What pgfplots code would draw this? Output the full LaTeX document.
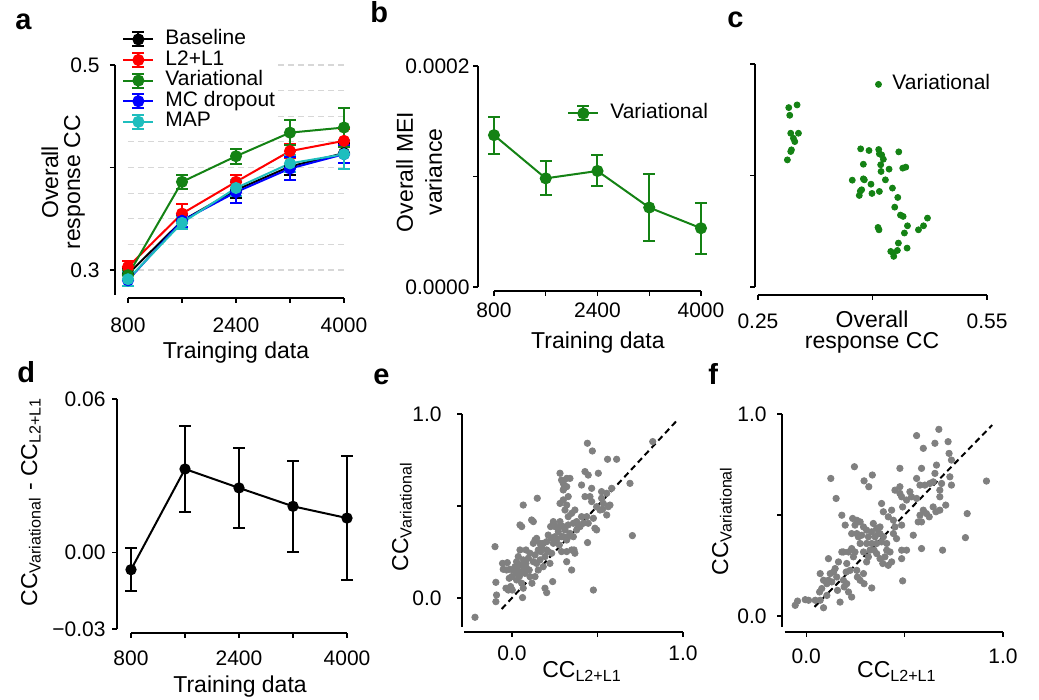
\documentclass[border=0pt]{standalone}
\usepackage{fontspec}
\setmainfont{Liberation Sans}
\usepackage{pgfplots}
\pgfplotsset{compat=1.18}

\definecolor{cblack}{RGB}{0,0,0}
\definecolor{cred}{RGB}{255,0,0}
\definecolor{cgreen}{RGB}{20,130,20}
\definecolor{cblue}{RGB}{0,0,255}
\definecolor{ccyan}{RGB}{30,190,190}
\definecolor{cgray}{RGB}{128,128,128}
\definecolor{cgrid}{RGB}{215,215,215}

\newcommand{\tickfont}{\fontsize{10.5}{12}\selectfont}
\newcommand{\labfont}{\fontsize{11.5}{13}\selectfont}

\tikzset{
  eline/.style={line width=1pt, mark=*, mark size=2.5pt, mark options={solid}},
  spine/.style={black, line width=0.6pt},
}
\pgfplotsset{
  panel/.style={
    scale only axis, anchor=south west, clip=false, enlargelimits=false,
    axis lines*=left, axis line style={draw=none},
    scaled x ticks=false, scaled y ticks=false,
    tick align=outside, major tick length=2.5pt,
    tick style={black, line width=0.6pt},
    tick label style={inner sep=0pt, font=\tickfont},
    /pgf/number format/assume math mode=true,
    label style={font=\labfont, inner sep=0pt},
    legend cell align=left,
    legend style={draw=none, fill=white, inner sep=0pt, column sep=5.5pt,
      font=\tickfont, nodes={inner sep=0pt, text height=7.7pt, text depth=2.6pt}},
  },
  ebars/.style={
    error bars/y dir=both, error bars/y explicit,
    error bars/error bar style={line width=1pt, solid},
    error bars/error mark options={rotate=90, mark size=3pt, line width=1pt},
  },
  ebarlegend/.style={legend image code/.code={
    \draw[##1, mark=none, solid] (7.5pt,-3.5pt) -- (7.5pt,3.5pt)
      (4.5pt,-3.5pt) -- (10.5pt,-3.5pt) (4.5pt,3.5pt) -- (10.5pt,3.5pt);
    \draw[mark repeat=2, mark phase=2, ##1] plot coordinates {(0pt,0pt) (7.5pt,0pt) (15pt,0pt)};
  }},
}

\begin{document}
\begin{tikzpicture}
\useasboundingbox (0,0) rectangle (519.5pt,350pt);

% panel letters
\begin{scope}[every node/.style={anchor=base west, font=\bfseries\fontsize{14.5}{16}\selectfont, inner sep=0pt}]
\node at (7.5pt,335pt) {a};
\node at (185pt,338.5pt) {b};
\node at (363.5pt,336pt) {c};
\node at (8.5pt,158.5pt) {d};
\node at (186.5pt,157.5pt) {e};
\node at (354pt,157.5pt) {f};
\end{scope}

% ---------------- a ----------------
\begin{axis}[panel, ebars, ebarlegend,
  at={(57.5pt,201pt)}, width=117.5pt, height=118pt,
  xmin=607.4, xmax=4089, ymin=0.2727, ymax=0.50293,
  xtick={800,1600,2400,3200,4000}, xticklabels={800,,2400,,4000},
  ytick={0.3,0.4,0.5}, yticklabels={0.3,,0.5},
  xticklabel style={yshift=-7pt}, yticklabel style={xshift=-5pt},
  xlabel={Trainging data},
  xlabel style={at={(axis description cs:0.515,-0.233)}, anchor=center},
  ylabel={Overall\\response CC},
  ylabel style={at={(axis description cs:-0.221,0.49)}, anchor=center, align=center,
    font=\fontsize{11.5}{11}\selectfont},
  legend style={at={(axis description cs:0.0298,1.141)}, anchor=north west},
  legend entries={Baseline, L2+L1, Variational, MC dropout, MAP},
]
\pgfplotsinvokeforeach{0.3,0.325,0.35,0.375,0.4,0.425,0.45,0.475,0.5}{
  \draw[cgrid, line width=0.6pt, dash pattern=on 3pt off 2pt] (axis cs:800,#1) -- (axis cs:4000,#1);
}
\draw[spine] (axis cs:607.4,0.5) -- (axis cs:607.4,0.2756);
\draw[spine] (axis cs:800,0.2727) -- (axis cs:4000,0.2727);
\addplot[cblack, eline] coordinates {
  (800,0.296) +- (0,0.006) (1600,0.348) +- (0,0.006) (2400,0.378) +- (0,0.008)
  (3200,0.401) +- (0,0.008) (4000,0.414) +- (0,0.010)};
\addplot[cred, eline] coordinates {
  (800,0.303) +- (0,0.006) (1600,0.355) +- (0,0.009) (2400,0.386) +- (0,0.007)
  (3200,0.416) +- (0,0.007) (4000,0.426) +- (0,0.012)};
\addplot[cgreen, eline] coordinates {
  (800,0.295) +- (0,0.005) (1600,0.386) +- (0,0.0065) (2400,0.411) +- (0,0.0073)
  (3200,0.434) +- (0,0.012) (4000,0.439) +- (0,0.019)};
\addplot[cblue, eline] coordinates {
  (800,0.290) +- (0,0.006) (1600,0.348) +- (0,0.006) (2400,0.376) +- (0,0.011)
  (3200,0.399) +- (0,0.011) (4000,0.413) +- (0,0.009)};
\addplot[ccyan, eline] coordinates {
  (800,0.291) +- (0,0.007) (1600,0.346) +- (0,0.006) (2400,0.380) +- (0,0.008)
  (3200,0.404) +- (0,0.008) (4000,0.413) +- (0,0.014)};
\end{axis}

% ---------------- b ----------------
\begin{axis}[panel, ebars, ebarlegend,
  at={(239pt,204.5pt)}, width=115.5pt, height=112.5pt,
  xmin=552.6, xmax=4124, ymin=-3.62e-6, ymax=0.0002,
  xtick={800,1600,2400,3200,4000}, xticklabels={800,,2400,,4000},
  ytick={0,0.0001,0.0002}, yticklabels={0.0000,,0.0002},
  xticklabel style={yshift=-3pt}, yticklabel style={xshift=-1.5pt},
  xlabel={Training data},
  xlabel style={at={(axis description cs:0.519,-0.227)}, anchor=center},
  ylabel={Overall MEI\\variance},
  ylabel style={at={(axis description cs:-0.255,0.529)}, anchor=center, align=center,
    font=\fontsize{11.5}{14.5}\selectfont},
  legend style={at={(axis description cs:0.385,0.837)}, anchor=north west},
  legend entries={Variational},
]
\draw[spine] (axis cs:552.6,0.0002) -- (axis cs:552.6,0);
\draw[spine] (axis cs:800,-3.62e-6) -- (axis cs:4000,-3.62e-6);
\addplot[cgreen, eline] coordinates {
  (800,1.374e-4) +- (0,1.68e-5) (1600,0.983e-4) +- (0,1.55e-5) (2400,1.050e-4) +- (0,1.40e-5)
  (3200,0.719e-4) +- (0,3.04e-5) (4000,0.532e-4) +- (0,2.30e-5)};
\end{axis}

% ---------------- c ----------------
\begin{axis}[panel,
  at={(377.5pt,202.5pt)}, width=117.5pt, height=115.5pt,
  xmin=0.2461, xmax=0.5539, ymin=-7.17e-6, ymax=0.0002,
  xtick={0.25,0.4,0.55}, xticklabels={0.25,,0.55},
  ytick={0,0.0001,0.0002}, yticklabels={,,},
  xticklabel style={yshift=-6.5pt},
  xlabel={Overall\\response CC},
  xlabel style={at={(axis description cs:0.498,-0.162)}, anchor=center, align=center,
    font=\fontsize{11.5}{10.5}\selectfont},
  legend image code/.code={\draw[#1] plot coordinates {(1.5pt,0pt)};},
  legend style={at={(axis description cs:0.511,0.958)}, anchor=north west},
  legend entries={Variational},
]
\draw[spine] (axis cs:0.2461,0.0002) -- (axis cs:0.2461,0);
\draw[spine] (axis cs:0.25,-7.17e-6) -- (axis cs:0.55,-7.17e-6);
\addplot[only marks, mark=*, mark size=1.5pt, cgreen] table {
x y
0.3012 1.633e-4
0.2903 1.609e-4
0.2916 1.540e-4
0.2929 1.379e-4
0.3030 1.379e-4
0.2964 1.334e-4
0.2982 1.304e-4
0.2938 1.230e-4
0.2929 1.215e-4
0.2885 1.140e-4
0.3845 1.239e-4
0.3954 1.224e-4
0.4081 1.233e-4
0.4090 1.194e-4
0.4120 1.185e-4
0.4142 1.146e-4
0.4344 1.212e-4
0.3880 1.101e-4
0.4107 1.096e-4
0.4217 1.057e-4
0.4396 1.066e-4
0.4436 1.075e-4
0.4112 1.036e-4
0.3735 0.958e-4
0.3880 0.970e-4
0.3893 0.961e-4
0.4169 0.961e-4
0.3980 0.922e-4
0.4261 0.887e-4
0.3858 0.872e-4
0.3840 0.860e-4
0.3827 0.821e-4
0.3993 0.839e-4
0.4090 0.857e-4
0.4331 0.803e-4
0.4291 0.716e-4
0.4366 0.645e-4
0.4401 0.633e-4
0.4720 0.618e-4
0.4668 0.549e-4
0.4602 0.513e-4
0.4458 0.549e-4
0.4072 0.534e-4
0.4085 0.513e-4
0.4418 0.484e-4
0.4339 0.394e-4
0.4453 0.349e-4
0.4239 0.319e-4
0.4274 0.304e-4
0.4326 0.328e-4
0.4278 0.275e-4
};
\end{axis}

% ---------------- d ----------------
\begin{axis}[panel, ebars,
  at={(58.5pt,33.5pt)}, width=119pt, height=117pt,
  xmin=592.6, xmax=4118.5, ymin=-0.03157, ymax=0.06,
  xtick={800,1600,2400,3200,4000}, xticklabels={800,,2400,,4000},
  ytick={-0.03,0,0.06}, yticklabels={−0.03,0.00,0.06},
  xticklabel style={yshift=-6pt}, yticklabel style={xshift=-3pt},
  xlabel={Training data},
  xlabel style={at={(axis description cs:0.517,-0.231)}, anchor=center},
  ylabel={CC\textsubscript{Variational} - CC\textsubscript{L2+L1}},
  ylabel style={at={(axis description cs:-0.336,0.56)}, anchor=base},
]
\draw[spine] (axis cs:592.6,0.06) -- (axis cs:592.6,-0.03);
\draw[spine] (axis cs:800,-0.03157) -- (axis cs:4000,-0.03157);
\addplot[cblack, eline, mark size=2.3pt] coordinates {
  (800,-0.0068) +- (0,0.0085) (1600,0.0326) +- (0,0.0167) (2400,0.0252) +- (0,0.0158)
  (3200,0.0180) +- (0,0.0177) (4000,0.0134) +- (0,0.0243)};
\end{axis}

% ---------------- e ----------------
\begin{axis}[panel,
  at={(231pt,34pt)}, width=110.5pt, height=109pt,
  xmin=-0.292, xmax=1.0, ymin=-0.185, ymax=1.0,
  xtick={0,0.5,1}, xticklabels={0.0,,1.0},
  ytick={0,0.5,1}, yticklabels={0.0,,1.0},
  xticklabel style={yshift=-4pt}, yticklabel style={xshift=-7.5pt},
  xlabel={CC\textsubscript{L2+L1}},
  xlabel style={at={(axis description cs:0.543,-0.211)}, anchor=base},
  ylabel={CC\textsubscript{Variational}},
  ylabel style={at={(axis description cs:-0.244,0.528)}, anchor=base},
]
\draw[spine] (axis cs:-0.292,1.0) -- (axis cs:-0.292,-0.158);
\draw[spine] (axis cs:-0.281,-0.185) -- (axis cs:1.0,-0.185);
\addplot[only marks, mark=*, mark size=1.6pt, cgray] table {
x y
-0.216 -0.105
-0.099 0.279
-0.094 0.085
-0.090 0.016
-0.094 -0.020
-0.055 0.188
-0.051 0.156
-0.027 0.192
-0.012 0.156
-0.016 0.107
-0.035 0.053
-0.021 0.043
-0.008 0.062
0.002 0.043
0.027 0.197
0.037 0.225
0.031 0.156
0.023 0.134
0.043 0.116
0.057 0.143
0.070 0.170
0.066 0.207
0.082 0.188
0.057 0.080
0.066 0.053
0.062 0.002
0.096 0.216
0.105 0.243
0.101 0.152
0.117 0.080
0.135 0.116
0.047 0.397
0.057 0.388
0.066 0.505
0.115 0.424
0.125 0.415
0.148 0.542
0.135 0.315
0.144 0.324
0.154 0.261
0.164 0.207
0.168 0.252
0.183 0.297
0.203 0.306
0.212 0.342
0.193 0.225
0.183 0.170
0.193 0.053
0.203 0.029
0.222 0.188
0.232 0.243
0.238 0.089
0.226 0.388
0.242 0.406
0.251 0.333
0.261 0.315
0.271 0.361
0.281 0.388
0.277 0.288
0.290 0.252
0.300 0.388
0.310 0.370
0.320 0.252
0.320 0.197
0.329 0.333
0.339 0.351
0.349 0.261
0.349 0.152
0.363 0.261
0.368 0.243
0.281 0.678
0.290 0.641
0.300 0.623
0.304 0.596
0.320 0.650
0.339 0.650
0.329 0.551
0.300 0.533
0.310 0.478
0.320 0.505
0.329 0.442
0.349 0.460
0.359 0.406
0.378 0.415
0.388 0.388
0.407 0.614
0.427 0.687
0.427 0.551
0.437 0.442
0.446 0.406
0.456 0.551
0.446 0.668
0.466 0.596
0.476 0.433
0.485 0.379
0.495 0.370
0.505 0.678
0.524 0.578
0.524 0.542
0.534 0.514
0.554 0.569
0.563 0.496
0.554 0.451
0.573 0.505
0.442 0.301
0.476 0.043
0.441 0.841
0.470 0.799
0.559 0.754
0.612 0.754
0.690 0.623
0.704 0.339
0.823 0.850
0.583 0.596
0.530 0.482
0.008 0.152
0.018 0.170
0.047 0.179
0.076 0.134
0.086 0.161
0.125 0.197
0.144 0.188
0.135 0.234
0.164 0.297
0.173 0.279
0.212 0.252
0.242 0.297
0.232 0.324
0.251 0.388
0.300 0.333
0.320 0.315
0.290 0.333
0.359 0.333
0.378 0.370
0.398 0.388
0.407 0.442
0.417 0.406
0.368 0.478
0.300 0.587
0.320 0.605
0.281 0.514
0.242 0.415
0.466 0.524
0.495 0.496
0.515 0.478
0.203 0.261
0.154 0.152
0.105 0.116
0.027 0.098
-0.002 0.116
-0.031 0.152
0.047 0.261
0.082 0.261
0.125 0.297
0.281 0.415
0.329 0.397
};
\addplot[black, line width=1pt, dash pattern=on 3pt off 2pt] coordinates {(-0.06,-0.06) (0.96,0.96)};
\end{axis}

% ---------------- f ----------------
\begin{axis}[panel,
  at={(391pt,34pt)}, width=110.5pt, height=109pt,
  xmin=-0.123, xmax=1.0, ymin=-0.079, ymax=1.0,
  xtick={0,0.5,1}, xticklabels={0.0,,1.0},
  ytick={0,0.5,1}, yticklabels={0.0,,1.0},
  xticklabel style={yshift=-5.5pt}, yticklabel style={xshift=-5pt},
  xlabel={CC\textsubscript{L2+L1}},
  xlabel style={at={(axis description cs:0.52,-0.211)}, anchor=base},
  ylabel={CC\textsubscript{Variational}},
  ylabel style={at={(axis description cs:-0.244,0.509)}, anchor=base},
]
\draw[spine] (axis cs:-0.123,1.0) -- (axis cs:-0.123,-0.0545);
\draw[spine] (axis cs:-0.11,-0.079) -- (axis cs:1.0,-0.079);
\addplot[only marks, mark=*, mark size=1.6pt, cgray] table {
x y
-0.056 0.053
-0.044 0.074
-0.005 0.081
0.012 0.078
0.046 0.078
0.071 0.078
0.088 0.041
0.068 0.119
0.079 0.136
0.105 0.102
0.105 0.160
0.113 0.177
0.122 0.210
0.113 0.284
0.139 0.218
0.147 0.235
0.159 0.127
0.172 0.069
0.164 0.268
0.181 0.317
0.189 0.177
0.193 0.144
0.206 0.160
0.215 0.119
0.231 0.094
0.206 0.260
0.203 0.218
0.223 0.226
0.231 0.334
0.240 0.293
0.248 0.317
0.257 0.226
0.260 0.193
0.274 0.177
0.294 0.160
0.333 0.139
0.291 0.210
0.307 0.268
0.316 0.293
0.324 0.326
0.307 0.359
0.274 0.359
0.265 0.392
0.282 0.400
0.257 0.408
0.248 0.450
0.236 0.483
0.257 0.474
0.274 0.466
0.291 0.441
0.307 0.425
0.316 0.392
0.333 0.417
0.341 0.458
0.358 0.433
0.375 0.441
0.345 0.326
0.358 0.309
0.375 0.284
0.389 0.260
0.400 0.293
0.409 0.326
0.426 0.317
0.409 0.359
0.392 0.392
0.367 0.408
0.417 0.251
0.434 0.268
0.383 0.367
0.443 0.408
0.451 0.441
0.459 0.383
0.485 0.450
0.510 0.326
0.485 0.326
0.485 0.284
0.490 0.174
0.181 0.499
0.198 0.450
0.152 0.582
0.125 0.681
0.245 0.739
0.294 0.669
0.318 0.640
0.336 0.698
0.383 0.557
0.392 0.516
0.417 0.491
0.434 0.524
0.443 0.474
0.476 0.640
0.476 0.607
0.485 0.590
0.476 0.731
0.451 0.623
0.490 0.540
0.510 0.574
0.535 0.590
0.544 0.400
0.569 0.466
0.578 0.499
0.586 0.466
0.595 0.524
0.611 0.507
0.625 0.491
0.645 0.540
0.659 0.516
0.679 0.524
0.709 0.549
0.679 0.590
0.679 0.623
0.688 0.656
0.654 0.706
0.662 0.747
0.645 0.664
0.628 0.656
0.603 0.648
0.578 0.648
0.561 0.681
0.586 0.731
0.561 0.582
0.586 0.334
0.693 0.326
0.730 0.689
0.738 0.648
0.738 0.772
0.726 0.805
0.721 0.863
0.654 0.855
0.595 0.830
0.561 0.893
0.674 0.924
0.818 0.507
0.809 0.388
0.916 0.668
0.527 0.615
0.071 0.210
0.088 0.177
0.130 0.169
0.155 0.193
0.231 0.408
0.189 0.317
0.215 0.317
0.291 0.317
0.333 0.359
0.358 0.359
0.350 0.392
0.375 0.408
};
\addplot[black, line width=1pt, dash pattern=on 3pt off 2pt] coordinates {(0.042,0.045) (0.945,0.945)};
\end{axis}
\end{tikzpicture}
\end{document}
